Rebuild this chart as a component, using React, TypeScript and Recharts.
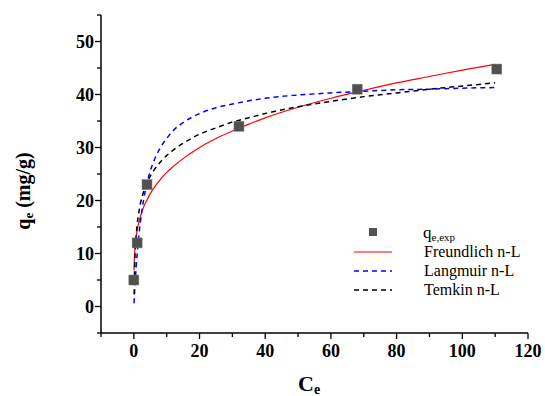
import { ComposedChart, Line, Scatter, XAxis, YAxis } from "recharts"

// experimental points
const CE_EXP = [0, 1, 4, 32, 68, 110.5]
const QE_EXP = [5, 12, 23, 34, 41, 44.8]

// fitted curves
const CE_FIT = [0.05, 0.1, 0.2, 0.3, 0.5, 0.7, 1, 1.5, 2, 3, 4, 5, 6, 8, 10, 12, 15, 20, 25, 30, 35, 40, 50, 60, 70, 80, 90, 100, 110]
const FREUNDLICH = [6.8, 8.1, 9.6, 10.6, 12.1, 13.1, 14.3, 15.8, 17.0, 18.8, 20.1, 21.3, 22.3, 23.9, 25.3, 26.4, 27.9, 30.0, 31.7, 33.1, 34.4, 35.6, 37.6, 39.3, 40.8, 42.2, 43.4, 44.6, 45.7]
const LANGMUIR = [0.6, 1.2, 2.4, 3.5, 5.5, 7.4, 9.8, 13.2, 16.0, 20.2, 23.3, 25.6, 27.3, 29.9, 31.7, 33.2, 34.7, 36.4, 37.5, 38.2, 38.8, 39.3, 39.9, 40.3, 40.6, 40.9, 41.0, 41.2, 41.3]
const TEMKIN = [null, 2.3, 6.3, 8.6, 11.5, 13.4, 15.4, 17.7, 19.4, 21.7, 23.3, 24.6, 25.6, 27.2, 28.5, 29.5, 30.8, 32.5, 33.7, 34.8, 35.6, 36.4, 37.7, 38.7, 39.6, 40.3, 41.0, 41.6, 42.2]

const X_TICKS = [-10, 0, 10, 20, 30, 40, 50, 60, 70, 80, 90, 100, 110, 120]
const Y_TICKS = [-5, 0, 5, 10, 15, 20, 25, 30, 35, 40, 45, 50, 55]

const FONT = "Liberation Serif, Times New Roman, serif"

const expData = CE_EXP.map((x, i) => ({ x, y: QE_EXP[i] }))
const freundlichData = CE_FIT.map((x, i) => ({ x, y: FREUNDLICH[i] }))
const langmuirData = CE_FIT.map((x, i) => ({ x, y: LANGMUIR[i] }))
const temkinData = CE_FIT.map((x, i) => ({ x, y: TEMKIN[i] }))

const YTick = (props: any) => {
    const { x, y, payload } = props
    const v = payload.value
    const major = v % 10 === 0 && v >= 0 && v <= 50
    return (
        <g>
            <line x1={x - (major ? 6 : 4)} x2={x} y1={y} y2={y} stroke="#000" strokeWidth={1.3} />
            {major && (
                <text x={x - 7} y={y + 6} textAnchor="end" fontFamily={FONT} fontWeight="bold" fontSize={18} fill="#000">
                    {v}
                </text>
            )}
        </g>
    )
}

const XTick = (props: any) => {
    const { x, y, payload } = props
    const v = payload.value
    const major = v % 20 === 0 && v >= 0
    return (
        <g>
            <line x1={x} x2={x} y1={y} y2={y + (major ? 6 : 4)} stroke="#000" strokeWidth={1.3} />
            {major && (
                <text x={x} y={y + 24} textAnchor="middle" fontFamily={FONT} fontWeight="bold" fontSize={18} fill="#000">
                    {v}
                </text>
            )}
        </g>
    )
}

const Square = (props: any) => {
    const { cx, cy } = props
    return <rect x={cx - 5} y={cy - 5} width={10} height={10} fill="#505050" stroke="#777" strokeWidth={0.5} />
}

const ChartLegend = () => (
    <svg width={195} height={90} style={{ position: "absolute", left: 345, top: 218 }}>
        <rect x={24} y={10} width={8} height={8} fill="#505050" />
        <text x={78} y={20} fontFamily={FONT} fontSize={17} fill="#000">
            q<tspan fontSize={11} dy={3}>e,exp</tspan>
        </text>
        <line x1={9} x2={47} y1={34} y2={34} stroke="#ff0000" strokeWidth={1.2} />
        <text x={79} y={39} fontFamily={FONT} fontSize={16} fill="#000">Freundlich n-L</text>
        <line x1={9} x2={47} y1={53} y2={53} stroke="#0000ff" strokeWidth={1.5} strokeDasharray="5 4" />
        <text x={79} y={58} fontFamily={FONT} fontSize={16} fill="#000">Langmuir n-L</text>
        <line x1={9} x2={47} y1={72} y2={72} stroke="#000" strokeWidth={1.5} strokeDasharray="5 4" />
        <text x={79} y={77} fontFamily={FONT} fontSize={16} fill="#000">Temkin n-L</text>
    </svg>
)

export default function App() {
    return (
        <div style={{ position: "absolute", left: 0, top: 0, width: 545, height: 396, background: "#fff" }}>
            <ComposedChart width={545} height={396} margin={{ top: 15, right: 17, bottom: 0, left: 41 }}>
                <XAxis
                    dataKey="x"
                    type="number"
                    domain={[-10, 120]}
                    ticks={X_TICKS}
                    interval={0}
                    allowDataOverflow
                    height={63}
                    tickSize={0}
                    tickMargin={0}
                    tickLine={false}
                    tick={<XTick />}
                    axisLine={{ stroke: "#000", strokeWidth: 1.5 }}
                />
                <YAxis
                    type="number"
                    domain={[-5, 55]}
                    ticks={Y_TICKS}
                    interval={0}
                    allowDataOverflow
                    width={60}
                    tickSize={0}
                    tickMargin={0}
                    tickLine={false}
                    tick={<YTick />}
                    axisLine={{ stroke: "#000", strokeWidth: 1.5 }}
                />
                <Line data={freundlichData} dataKey="y" type="monotone" stroke="#ff0000" strokeWidth={1.2} dot={false} isAnimationActive={false} />
                <Line data={langmuirData} dataKey="y" type="monotone" stroke="#0000ff" strokeWidth={1.5} strokeDasharray="5 4" dot={false} isAnimationActive={false} />
                <Line data={temkinData} dataKey="y" type="monotone" stroke="#000" strokeWidth={1.5} strokeDasharray="5 4" dot={false} isAnimationActive={false} />
                <Scatter data={expData} dataKey="y" shape={<Square />} isAnimationActive={false} />
            </ComposedChart>
            <svg width={545} height={396} style={{ position: "absolute", left: 0, top: 0, pointerEvents: "none" }}>
                <text x={298} y={391} fontFamily={FONT} fontWeight="bold" fontSize={22} fill="#000">
                    C<tspan fontSize={14} dy={3}>e</tspan>
                </text>
                <text transform="translate(30,191) rotate(-90)" textAnchor="middle" fontFamily={FONT} fontWeight="bold" fontSize={20} fill="#000">
                    q<tspan fontSize={13} dy={3}>e</tspan><tspan dy={-3}> (mg/g)</tspan>
                </text>
            </svg>
            <ChartLegend />
        </div>
    )
}
